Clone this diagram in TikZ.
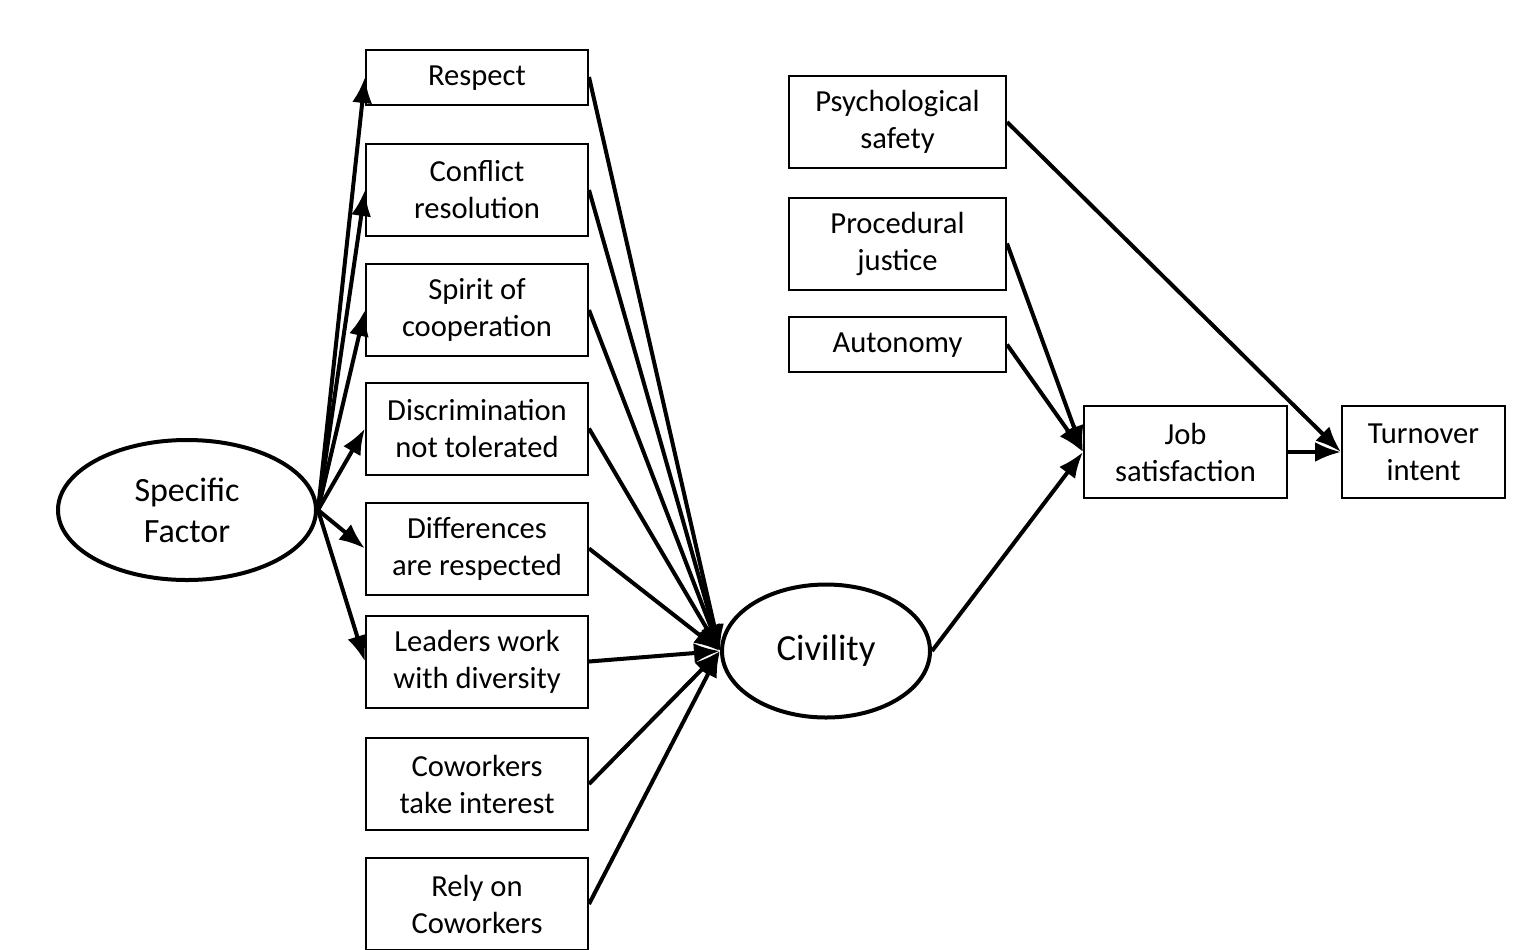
\documentclass[tikz,border=0pt]{standalone}
\usepackage{fontspec}
\setmainfont{Carlito}
\usetikzlibrary{shapes.geometric,arrows.meta,positioning}
\tikzset{
    itembox/.style={
        rectangle,
        draw,
        line width=1pt,
        minimum width=111pt,
        minimum height=46pt,
        inner sep=0pt,
        align=center,
        font=\fontsize{15.3}{18.5}\selectfont
    },
    shortbox/.style={
        itembox,
        minimum height=27.5pt,
        text depth=1.5pt
    },
    latentnode/.style={
        ellipse,
        draw,
        line width=2pt,
        inner sep=0pt,
        align=center
    },
    path/.style={
        line width=2pt,
        -{Latex[length=13pt,width=10pt]}
    }
}
\begin{document}
\begin{tikzpicture}[x=0.5pt,y=-0.5pt]
        \useasboundingbox (0,0) rectangle (1525,949);
        % Latent factors
        \node[latentnode,minimum width=129pt,minimum height=70pt,font=\fontsize{17}{20.5}\selectfont] (specific) at (187,510) {Specific\\Factor\hspace*{0pt}};
        \node[latentnode,minimum width=104pt,minimum height=66.5pt,font=\fontsize{18.4}{22}\selectfont] (civility) at (826,651) {Civility};

        % Indicator items
        \node[shortbox] (respect) at (477,77) {Respect};
        \node[itembox] (conflict) at (477,190) {Conflict\\resolution};
        \node[itembox] (spirit) at (477,310) {Spirit of\\cooperation};
        \node[itembox] (discrim) at (477,428.5) {Discrimination\\not tolerated};
        \node[itembox] (differ) at (477,548.5) {Differences\\are respected};
        \node[itembox] (leaders) at (477,661.5) {Leaders work\\with diversity};
        \node[itembox] (coworkers) at (477,784) {Coworkers\\take interest};
        \node[itembox] (rely) at (477,904) {Rely on\\Coworkers};

        % Outcome variables
        \node[itembox,minimum width=108.5pt] (psych) at (897.5,122) {Psychological\\safety};
        \node[itembox,minimum width=108.5pt] (proc) at (897.5,243.5) {Procedural\\justice};
        \node[shortbox,minimum width=108.5pt] (autonomy) at (897.5,344.5) {Autonomy};
        \node[itembox,minimum width=101.5pt] (job) at (1185.5,452) {Job\\satisfaction};
        \node[itembox,minimum width=81.5pt] (turnover) at (1423.5,452) {Turnover\\intent};

        % Specific factor loadings
        \foreach \item in {respect,conflict,spirit,discrim,differ,leaders}
            \draw[path] (specific.east) -- (\item.west);

        % Paths to civility
        \foreach \item in {respect,conflict,spirit,discrim,differ,leaders,coworkers,rely}
            \draw[path] (\item.east) -- (civility.west);

        % Structural paths
        \draw[path] (psych.east) -- (turnover.west);
        \draw[path] (proc.east) -- (job.west);
        \draw[path] (autonomy.east) -- (job.west);
        \draw[path] (civility.east) -- (job.west);
        \draw[path] (job.east) -- (turnover.west);
    \end{tikzpicture}
\end{document}
